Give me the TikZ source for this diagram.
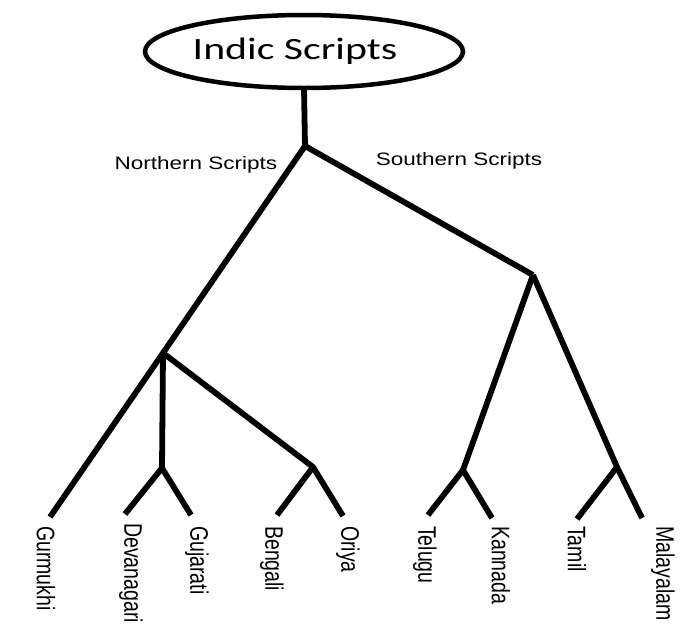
\documentclass[tikz,border=0pt]{standalone}
\usepackage{fontspec}
\setmainfont{Liberation Sans}
\newfontfamily\titlefont{Carlito}
\usetikzlibrary{shapes.geometric}
\tikzset{
  branch/.style={line width=5.8pt, line join=round},
  leaflabel/.style={rotate=-90, anchor=west, inner sep=0pt, font=\fontsize{19.5}{20}\selectfont},
  grouplabel/.style={inner sep=0pt, font=\fontsize{18}{19}\selectfont},
  rootbox/.style={ellipse, draw, line width=4.5pt, minimum width=318pt, minimum height=73pt, inner sep=0pt, outer sep=0pt}
}
\newcommand{\vlab}[1]{\scalebox{1}[1.3]{#1}}
\newcommand{\hlab}[1]{\scalebox{1.25}[1]{#1}}
\begin{document}
\begin{tikzpicture}[x=1pt, y=-1pt]
\useasboundingbox[fill=white] (0,0) rectangle (685,624);
% root
\node[rootbox] (root) at (304,51.5) {\scalebox{1.35}[1]{\titlefont\fontsize{31}{31}\selectfont Indic Scripts}\hspace*{18pt}};
% junctions
\coordinate (j0) at (305,146);
\coordinate (north) at (163,353);
\coordinate (dev) at (162,468);
\coordinate (bo) at (313,467);
\coordinate (south) at (533,275);
\coordinate (tk) at (463,470);
\coordinate (tm) at (617,467);
% leaf ends
\coordinate (eGur) at (50,517);
\coordinate (eDev) at (125,514);
\coordinate (eGuj) at (191,515);
\coordinate (eBen) at (277,515);
\coordinate (eOri) at (343,516);
\coordinate (eTel) at (428,515);
\coordinate (eKan) at (492,518);
\coordinate (eTam) at (577,519);
\coordinate (eMal) at (642,518);
% connectors
\draw[branch] (root.south) -- (j0);
\draw[branch] (j0) -- (north) -- (eGur);
\draw[branch] (north) -- (dev);
\draw[branch] (eDev) -- (dev) -- (eGuj);
\draw[branch] (north) -- (bo);
\draw[branch] (eBen) -- (bo) -- (eOri);
\draw[branch] (j0) -- (south);
\draw[branch] (south) -- (tk);
\draw[branch] (eTel) -- (tk) -- (eKan);
\draw[branch] (south) -- (tm) -- (eMal);
\draw[branch] (tm) -- (eTam);
% group labels
\node[grouplabel] (nlab) at (196,165) {\hlab{Northern Scripts}};
\node[grouplabel] (slab) at (459,161) {\hlab{Southern Scripts}};
% leaf labels
\node[leaflabel] (lGur) at (46,526) {\vlab{Gurmukhi}};
\node[leaflabel] (lDev) at (131,523) {\vlab{Devanagari}};
\node[leaflabel] (lGuj) at (197,526) {\vlab{Gujarati}};
\node[leaflabel] (lBen) at (272,526) {\vlab{Bengali}};
\node[leaflabel] (lOri) at (348,526) {\vlab{Oriya}};
\node[leaflabel] (lTel) at (425,526) {\vlab{Telugu}};
\node[leaflabel] (lKan) at (501,526) {\vlab{Kannada}};
\node[leaflabel] (lTam) at (577,526) {\vlab{Tamil}};
\node[leaflabel] (lMal) at (663,526) {\vlab{Malayalam}};
\end{tikzpicture}
\end{document}
